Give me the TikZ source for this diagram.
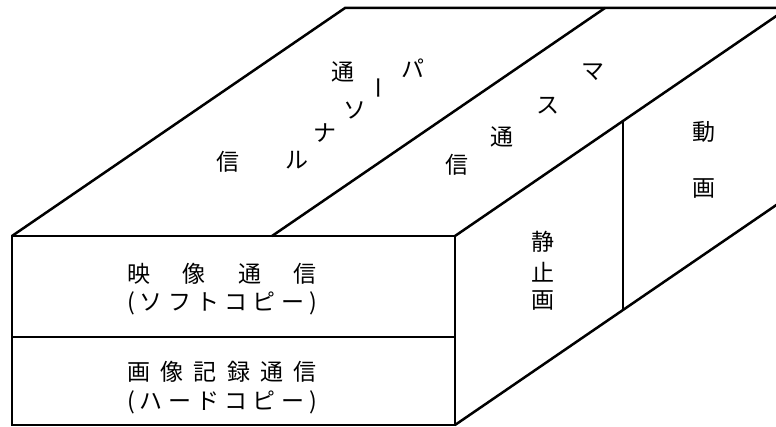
\documentclass[tikz,border=0pt]{standalone}
\usepackage{fontspec}
\newfontfamily\jpfont{Noto Sans CJK JP}
\newcommand{\spreadline}[2]{\makebox[#1][s]{#2}}

\begin{document}
\begin{tikzpicture}[x=1pt, y=-1pt,
    every node/.style={font=\jpfont\fontsize{23}{24}\selectfont,
                       inner sep=0pt, anchor=center},
    edge/.style={line width=2.5pt, line join=miter}
  ]
  \useasboundingbox (0,0) rectangle (776,427);
  \clip (0,0) rectangle (776,427);

  % Box corners (back right edge lies past the frame)
  \coordinate (ftl) at (12,236);
  \coordinate (ftr) at (455,236);
  \coordinate (fbr) at (455,425);
  \coordinate (fbl) at (12,425);
  \coordinate (btl) at (345,8);
  \coordinate (btr) at (788,8);
  \coordinate (bbr) at (788,197);

  % Dividers
  \coordinate (fml) at (12,337);
  \coordinate (fmr) at (455,337);
  \coordinate (tdf) at (272,236);
  \coordinate (tdb) at (605,8);
  \coordinate (sdt) at (623,121);
  \coordinate (sdb) at (623,310);

  % Outline
  \draw[edge] (fbl) -- (ftl) -- (ftr) -- (fbr) -- cycle;
  \draw[edge] (ftl) -- (btl) -- (btr) -- (ftr);
  \draw[edge] (fbr) -- (bbr);
  \draw[edge] (fml) -- (fmr);
  \draw[edge] (tdf) -- (tdb);
  \draw[edge] (sdt) -- (sdb);

  % Top face, left strip
  \node (pa)  at (413,68)  {パ};
  \node[rotate=90] (bo) at (383,88) {ー};
  \node (so)  at (355,110) {ソ};
  \node (na)  at (325,133) {ナ};
  \node (ru)  at (297,160) {ル};
  \node (pt1) at (343,72)  {通};
  \node (pt2) at (228,162) {信};

  % Top face, right strip
  \node (ma)  at (593,72)  {マ};
  \node (su)  at (548,106) {ス};
  \node (mt1) at (502,137) {通};
  \node (mt2) at (457,165) {信};

  % Side face
  \node (sei)  at (543,242) {静};
  \node (shi)  at (543,272) {止};
  \node (ga1)  at (543,301) {画};
  \node (dou)  at (704,132) {動};
  \node (ga2)  at (704,189) {画};

  % Front face
  \node (eizo1) at (222,274) {\spreadline{190pt}{映\hfill 像\hfill 通\hfill 信}};
  \node (eizo2) at (222,303) {\spreadline{190pt}{(\hfill ソ\hfill フ\hfill ト\hfill コ\hfill ピ\hfill ー\hfill )}};
  \node (gazo1) at (222,372) {\spreadline{190pt}{画\hfill 像\hfill 記\hfill 録\hfill 通\hfill 信}};
  \node (gazo2) at (222,402) {\spreadline{190pt}{(\hfill ハ\hfill ー\hfill ド\hfill コ\hfill ピ\hfill ー\hfill )}};
\end{tikzpicture}
\end{document}
